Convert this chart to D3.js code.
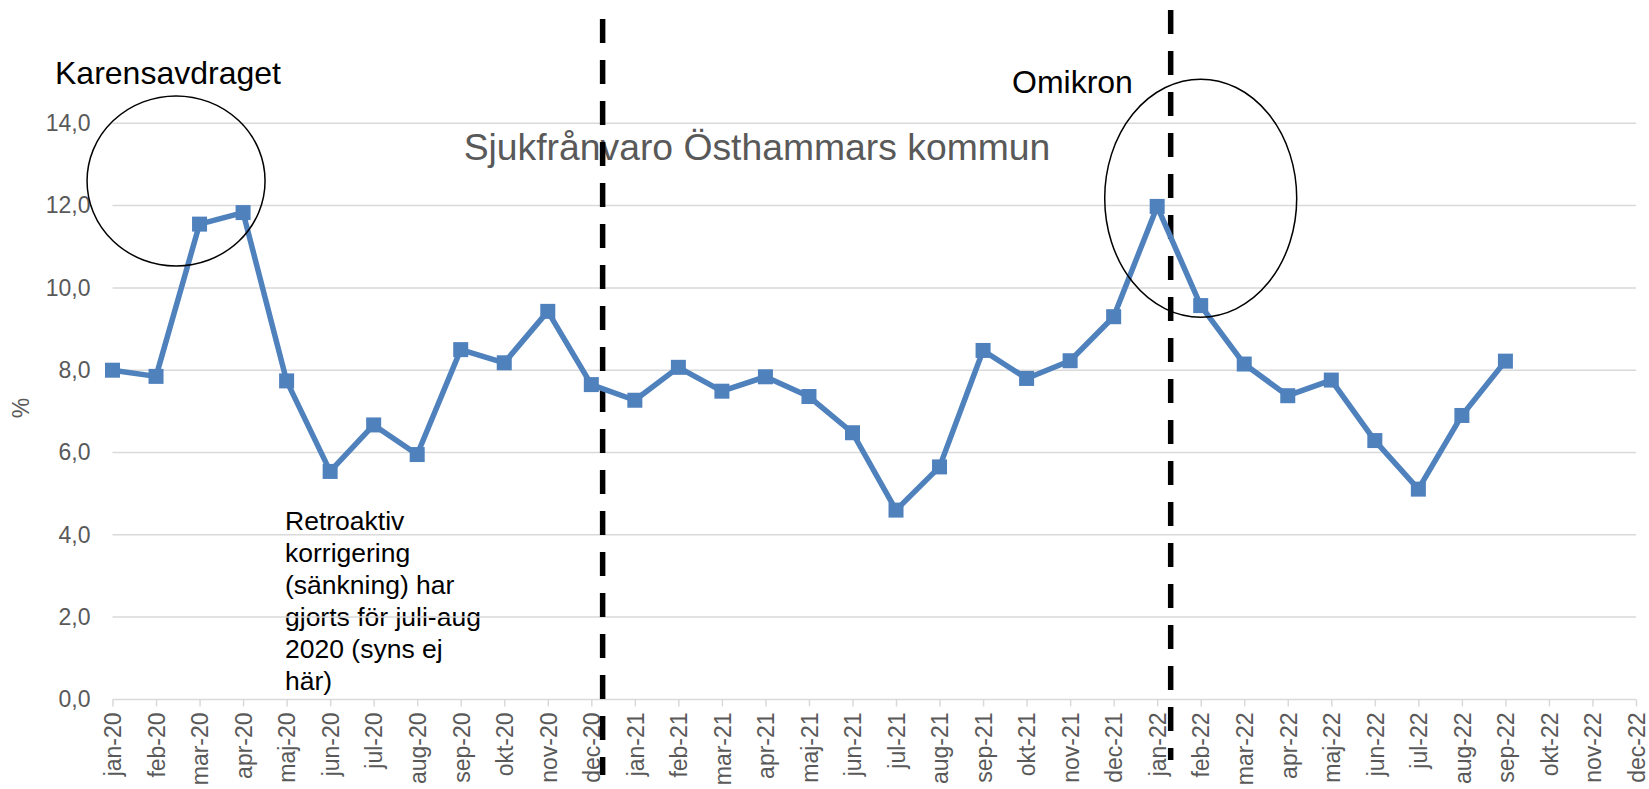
<!DOCTYPE html>
<html>
  <head>
    <meta charset="utf-8" />
    <script src="https://cdn.jsdelivr.net/npm/d3@7"></script>
    <style>
      body,
      html {
        margin: 0;
        padding: 0;
        background: #fff;
        overflow: hidden;
      }
      * {
        font-family: "Liberation Sans", Arial, sans-serif;
      }
    </style>
    <title>Sjukfrånvaro</title>
  </head>

  <body>
    <svg id="chart"></svg>

    <script>
      // months on the x axis
      var months = [
        "jan-20", "feb-20", "mar-20", "apr-20", "maj-20", "jun-20",
        "jul-20", "aug-20", "sep-20", "okt-20", "nov-20", "dec-20",
        "jan-21", "feb-21", "mar-21", "apr-21", "maj-21", "jun-21",
        "jul-21", "aug-21", "sep-21", "okt-21", "nov-21", "dec-21",
        "jan-22", "feb-22", "mar-22", "apr-22", "maj-22", "jun-22",
        "jul-22", "aug-22", "sep-22", "okt-22", "nov-22", "dec-22"
      ];
      // sjukfrånvaro in %, null = no data yet
      var values = [
        8.0, 7.85, 11.55, 11.83, 7.74, 5.54,
        6.67, 5.95, 8.5, 8.18, 9.43, 7.65,
        7.27, 8.07, 7.49, 7.84, 7.36, 6.48,
        4.6, 5.65, 8.48, 7.8, 8.23, 9.3,
        11.98, 9.57, 8.15, 7.38, 7.76, 6.29,
        5.11, 6.9, 8.22, null, null, null
      ];
      var yTicks = [0, 2, 4, 6, 8, 10, 12, 14];

      // vertical dashed markers: month + fraction of a step after it
      var markerMonths = ["dec-20", "jan-22"];
      var markerOffsets = [0.26, 0.31];

      var title = "Sjukfrånvaro Östhammars kommun";
      var noteLines = [
        "Retroaktiv",
        "korrigering",
        "(sänkning) har",
        "gjorts för juli-aug",
        "2020 (syns ej",
        "här)"
      ];

      var W = 1649;
      var H = 789;
      var plotLeft = 112.5;
      var plotRight = 1636;
      var plotBottom = 699.4;
      var plotTop = 123.3;

      var svg = d3.select("#chart").attr("width", W).attr("height", H);

      var xScale = d3.scalePoint().domain(months).range([plotLeft, plotRight]);
      var yScale = d3.scaleLinear().domain([0, 14]).range([plotBottom, plotTop]);

      var sv = d3.formatLocale({
        decimal: ",",
        thousands: " ",
        grouping: [3],
        currency: ["", " kr"]
      });
      var fmt = sv.format(".1f");

      // note text sits under the gridlines, like in the original
      var note = svg
        .append("text")
        .attr("x", 285)
        .attr("y", 530)
        .style("font-size", "26.5px")
        .style("fill", "#000");
      note
        .selectAll("tspan")
        .data(noteLines)
        .enter()
        .append("tspan")
        .attr("x", 285)
        .attr("dy", function (d, i) {
          return i === 0 ? 0 : 32;
        })
        .text(function (d) {
          return d;
        });

      // gridlines
      svg
        .append("g")
        .selectAll("line")
        .data(yTicks)
        .enter()
        .append("line")
        .attr("x1", plotLeft)
        .attr("x2", plotRight)
        .attr("y1", function (d) {
          return yScale(d);
        })
        .attr("y2", function (d) {
          return yScale(d);
        })
        .style("stroke", "#d9d9d9")
        .style("stroke-width", "1.5px");

      // x axis
      var xAxis = d3.axisBottom(xScale).tickSize(7).tickSizeOuter(0);
      var gx = svg
        .append("g")
        .attr("transform", "translate(0," + plotBottom + ")")
        .call(xAxis);
      gx.select(".domain").remove();
      gx.selectAll("line").style("stroke", "#d9d9d9").style("stroke-width", "1.5px");
      gx.selectAll("text")
        .attr("transform", "rotate(-90)")
        .attr("x", -13)
        .attr("y", 0)
        .attr("dy", "0.36em")
        .style("text-anchor", "end")
        .style("font-size", "23px")
        .style("fill", "#595959");

      // y axis
      var yAxis = d3
        .axisLeft(yScale)
        .tickValues(yTicks)
        .tickSize(0)
        .tickPadding(22)
        .tickFormat(fmt);
      var gy = svg
        .append("g")
        .attr("transform", "translate(" + plotLeft + ",0)")
        .call(yAxis);
      gy.select(".domain").remove();
      gy.selectAll("text").style("font-size", "23px").style("fill", "#595959");

      svg
        .append("text")
        .attr("transform", "translate(29,408) rotate(-90)")
        .style("text-anchor", "middle")
        .style("font-size", "23px")
        .style("fill", "#595959")
        .text("%");

      // title
      svg
        .append("text")
        .attr("x", 757)
        .attr("y", 160)
        .style("text-anchor", "middle")
        .style("font-size", "37.3px")
        .style("fill", "#595959")
        .text(title);

      // dashed markers
      var markerTops = [19, 10];
      var markerBottoms = [775, 760];
      svg
        .append("g")
        .selectAll("line")
        .data(markerMonths)
        .enter()
        .append("line")
        .attr("x1", function (d, i) {
          return xScale(d) + markerOffsets[i] * xScale.step();
        })
        .attr("x2", function (d, i) {
          return xScale(d) + markerOffsets[i] * xScale.step();
        })
        .attr("y1", function (d, i) {
          return markerTops[i];
        })
        .attr("y2", function (d, i) {
          return markerBottoms[i];
        })
        .style("stroke", "#000")
        .style("stroke-width", "5.5px")
        .style("stroke-dasharray", "24 17");

      // data line
      var points = months.map(function (m, i) {
        return { month: m, value: values[i] };
      });
      var line = d3
        .line()
        .defined(function (d) {
          return d.value !== null;
        })
        .x(function (d) {
          return xScale(d.month);
        })
        .y(function (d) {
          return yScale(d.value);
        });

      svg
        .append("path")
        .datum(points)
        .attr("d", line)
        .style("fill", "none")
        .style("stroke", "#4f81bd")
        .style("stroke-width", "5.5px")
        .style("stroke-linejoin", "round");

      var ms = 15;
      svg
        .append("g")
        .selectAll("rect")
        .data(points.filter(function (d) {
          return d.value !== null;
        }))
        .enter()
        .append("rect")
        .attr("x", function (d) {
          return xScale(d.month) - ms / 2;
        })
        .attr("y", function (d) {
          return yScale(d.value) - ms / 2;
        })
        .attr("width", ms)
        .attr("height", ms)
        .style("fill", "#4f81bd");

      // circled events
      var step = xScale.step();
      svg
        .append("ellipse")
        .attr("cx", xScale("feb-20") + 0.46 * step)
        .attr("cy", yScale(12.6))
        .attr("rx", 89)
        .attr("ry", 85)
        .style("fill", "none")
        .style("stroke", "#000")
        .style("stroke-width", "1.5px");

      svg
        .append("ellipse")
        .attr("cx", xScale("feb-22"))
        .attr("cy", yScale(12.18))
        .attr("rx", 96)
        .attr("ry", 119)
        .style("fill", "none")
        .style("stroke", "#000")
        .style("stroke-width", "1.5px");

      svg
        .append("text")
        .attr("x", 55)
        .attr("y", 84)
        .style("font-size", "32px")
        .style("fill", "#000")
        .text("Karensavdraget");

      svg
        .append("text")
        .attr("x", 1012)
        .attr("y", 93)
        .style("font-size", "32px")
        .style("fill", "#000")
        .text("Omikron");
    </script>
  </body>
</html>
